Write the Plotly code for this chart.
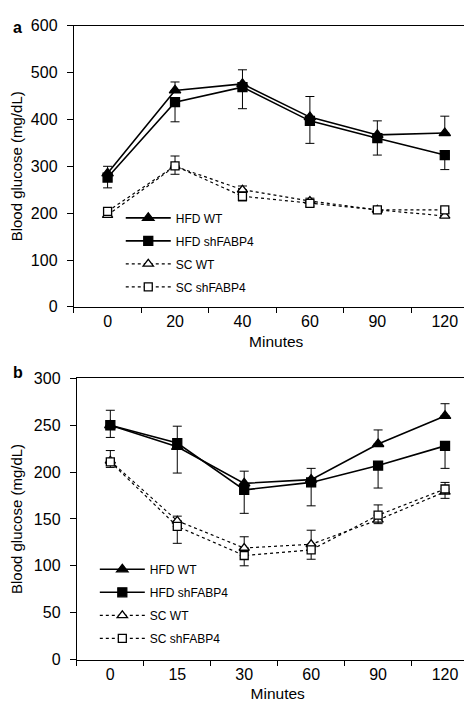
import plotly.graph_objects as go

# ---------------- data ----------------
cats_a = ["0", "20", "40", "60", "90", "120"]
hfd_wt_a = [285, 462, 476, 405, 367, 371]
hfd_wt_a_err = [15, 18, 30, 44, 30, 36]
hfd_sh_a = [276, 437, 469, 397, 360, 324]
hfd_sh_a_err = [22, 42, 46, 48, 36, 31]
sc_wt_a = [196, 300, 250, 226, 207, 194]
sc_wt_a_err = [5, 22, 8, 6, 5, 5]
sc_sh_a = [204, 301, 236, 221, 207, 207]
sc_sh_a_err = [5, 18, 10, 6, 5, 5]

cats_b = ["0", "15", "30", "60", "90", "120"]
hfd_wt_b = [250, 227, 188, 192, 230, 260]
hfd_wt_b_err = [16, 22, 13, 12, 15, 13]
hfd_sh_b = [250, 231, 181, 189, 207, 228]
hfd_sh_b_err = [13, 32, 25, 25, 24, 24]
sc_wt_b = [212, 148, 119, 123, 149, 179]
sc_wt_b_err = [11, 5, 12, 15, 16, 10]
sc_sh_b = [211, 142, 111, 117, 154, 182]
sc_sh_b_err = [6, 18, 11, 10, 9, 10]

names = ["HFD WT", "HFD shFABP4", "SC WT", "SC shFABP4"]

FONT = "Liberation Sans, Arial, sans-serif"

fig = go.Figure()


def add_panel(cats, series, xa, ya, legend, tag):
    styles = [
        dict(symbol="triangle-up", color="black", size=10, dash="solid", lw=1.6, up=True),
        dict(symbol="square", color="black", size=9, dash="solid", lw=1.6, up=False),
        dict(symbol="triangle-up", color="white", size=9, dash="3px,3px", lw=1.2, up=True),
        dict(symbol="square", color="white", size=8, dash="3px,3px", lw=1.2, up=False),
    ]
    for i, (name, (vals, errs), st) in enumerate(zip(names, series, styles)):
        zeros = [0] * len(errs)
        fig.add_trace(go.Scatter(
            x=cats, y=vals, name=name, mode="lines+markers",
            xaxis=xa, yaxis=ya, legend=legend, legendgroup=f"{tag}{i}",
            line=dict(color="black", width=st["lw"], dash=st["dash"]),
            marker=dict(symbol=st["symbol"], size=st["size"], color=st["color"],
                        line=dict(color="black", width=1.3)),
            error_y=dict(type="data", symmetric=False,
                         array=errs if st["up"] else zeros,
                         arrayminus=zeros if st["up"] else errs,
                         color="black", thickness=1, width=4.5),
            cliponaxis=False,
        ))


add_panel(cats_a, [(hfd_wt_a, hfd_wt_a_err), (hfd_sh_a, hfd_sh_a_err),
                   (sc_wt_a, sc_wt_a_err), (sc_sh_a, sc_sh_a_err)], "x", "y", "legend", "a")
add_panel(cats_b, [(hfd_wt_b, hfd_wt_b_err), (hfd_sh_b, hfd_sh_b_err),
                   (sc_wt_b, sc_wt_b_err), (sc_sh_b, sc_sh_b_err)], "x2", "y2", "legend2", "b")

W, H = 472, 710

xcommon = dict(type="category", showline=True, linecolor="black", linewidth=1.2, mirror=True,
               ticks="outside", tickson="boundaries", ticklen=5, tickcolor="black",
               showgrid=False, zeroline=False,
               tickfont=dict(family=FONT, size=16, color="black"),
               title=dict(text="Minutes", font=dict(family=FONT, size=15.5, color="black"), standoff=6))
ycommon = dict(showline=True, linecolor="black", linewidth=1.2, mirror=True,
               ticks="outside", ticklen=6, tickcolor="black", showgrid=False, zeroline=False,
               ticklabelstandoff=6,
               tickfont=dict(family=FONT, size=16, color="black"),
               title=dict(text="Blood glucose (mg/dL)", font=dict(family=FONT, size=15, color="black"),
                          standoff=12))

legcommon = dict(xanchor="left", yanchor="top", bgcolor="rgba(0,0,0,0)",
                 font=dict(family=FONT, size=12, color="black"),
                 itemwidth=45, tracegroupgap=4, traceorder="grouped")

fig.update_layout(
    width=W, height=H, margin=dict(l=0, r=0, t=0, b=0),
    paper_bgcolor="white", plot_bgcolor="white",
    font=dict(family=FONT, color="black"),
    xaxis=dict(domain=[65 / W, 470.5 / W], anchor="y", range=[-0.5, 5.5], **xcommon),
    yaxis=dict(domain=[1 - 298 / H, 1 - 10 / H], anchor="x", range=[0, 600], dtick=100, **ycommon),
    xaxis2=dict(domain=[68 / W, 470.5 / W], anchor="y2", range=[-0.5, 5.5], **xcommon),
    yaxis2=dict(domain=[1 - 659.3 / H, 1 - 371.3 / H], anchor="x2", range=[0, 300], dtick=50, **ycommon),
    legend=dict(x=112 / W, y=1 - 192 / H, **legcommon),
    legend2=dict(x=86 / W, y=1 - 552 / H, **legcommon),
    showlegend=True,
    annotations=[
        dict(text="<b>a</b>", x=2 / W, y=1 - 1 / H, xref="paper", yref="paper",
             xanchor="left", yanchor="top", showarrow=False,
             font=dict(family=FONT, size=16, color="black")),
        dict(text="<b>b</b>", x=2 / W, y=1 - 354 / H, xref="paper", yref="paper",
             xanchor="left", yanchor="top", showarrow=False,
             font=dict(family=FONT, size=16, color="black")),
    ],
)

fig.write_html("out.html")
